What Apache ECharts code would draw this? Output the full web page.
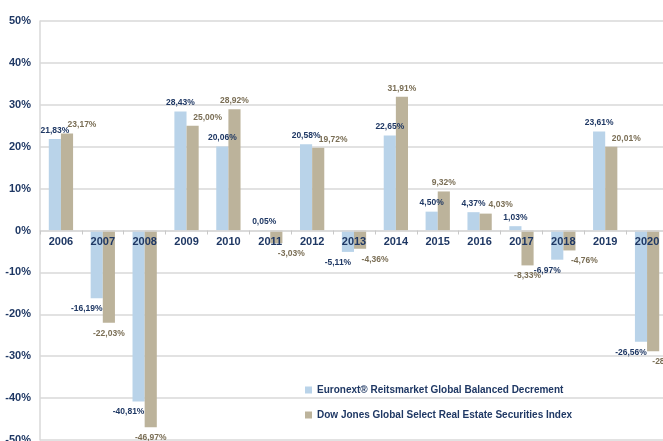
<!DOCTYPE html>
<html>
<head>
<meta charset="utf-8">
<script src="https://cdn.jsdelivr.net/npm/echarts@6/dist/echarts.min.js"></script>
<style>
html,body{margin:0;padding:0;background:#fff;}
#c{width:663px;height:441px;}
</style>
</head>
<body>
<div id="c"></div>
<script>
const categories = ['2006','2007','2008','2009','2010','2011','2012','2013','2014','2015','2016','2017','2018','2019','2020'];
const euronext = [21.83,-16.19,-40.81,28.43,20.06,0.05,20.58,-5.11,22.65,4.50,4.37,1.03,-6.97,23.61,-26.56];
const dowjones = [23.17,-22.03,-46.97,25.00,28.92,-3.03,19.72,-4.36,31.91,9.32,4.03,-8.33,-4.76,20.01,-28.80];
const seriesNames = ['Euronext® Reitsmarket Global Balanced Decrement','Dow Jones Global Select Real Estate Securities Index'];

const navy = '#1F3864';
const tanText = '#7A6E55';
const blue = '#B9D3E9';
const tan = '#BCB39B';
const FONT = 'Liberation Sans, Arial, sans-serif';

function fmt(v){ return v.toFixed(2).replace('.', ',') + '%'; }

// label placement rule: keep the two labels of a year from colliding
function buildData(vals, other, isTan){
  return vals.map((v,i)=>{
    const o = other[i];
    const close = Math.abs(v - o) < 4.5;
    let dx = 0;
    if (isTan) {
      dx = close ? 15 : 0;
    } else if (v < 0 && o < 0) {
      dx = -10;
    }
    return {
      value: v,
      label: { position: v < 0 ? 'bottom' : 'top', distance: v < 0 ? 6 : 4, offset: [dx, 0] }
    };
  });
}

const W = 663, H = 441;
const gridTop = 21, gridBottom = 1;
const yMin = -50, yMax = 50;
const plotH = H - gridTop - gridBottom;
// shift the category axis up from the bottom edge to the zero line
const zeroOffset = -plotH * (0 - yMin) / (yMax - yMin);

const chart = echarts.init(document.getElementById('c'));
const labelBase = (color)=>({
  show: true, fontSize: 8.5, fontWeight: 'bold',
  fontFamily: FONT, color: color,
  formatter: p => fmt(p.value)
});
chart.setOption({
  animation: false,
  grid: { left: 40, right: -5, top: gridTop, bottom: gridBottom, containLabel: false, outerBoundsMode: 'none' },
  legend: {
    orient: 'vertical', left: 300, top: 379, itemWidth: 7, itemHeight: 7, itemGap: 13,
    icon: 'rect',
    textStyle: { fontSize: 10, fontWeight: 'bold', color: navy, fontFamily: FONT, lineHeight: 12 },
    data: seriesNames
  },
  xAxis: {
    type: 'category', data: categories, z: 10, position: 'bottom', offset: zeroOffset,
    axisLine: { onZero: false, lineStyle: { color: '#D9D9D9', width: 1.5 } },
    axisTick: { show: true, length: 4, lineStyle: { color: '#C8C8C8' } },
    axisLabel: { margin: 6, fontSize: 11, fontWeight: 'bold', color: navy, fontFamily: FONT },
    splitLine: { show: false }
  },
  yAxis: {
    type: 'value', min: yMin, max: yMax, interval: 10,
    axisLine: { show: true, onZero: false, lineStyle: { color: '#D9D9D9', width: 1.5 } },
    axisTick: { show: false },
    axisLabel: { formatter: '{value}%', margin: 9, fontSize: 11, fontWeight: 'bold', color: navy, fontFamily: FONT },
    splitLine: { lineStyle: { color: '#D9D9D9', width: 1.5 } }
  },
  series: [
    { name: seriesNames[0], type: 'bar', barGap: '0%', barCategoryGap: '42%',
      itemStyle: { color: blue }, label: labelBase(navy),
      data: buildData(euronext, dowjones, false) },
    { name: seriesNames[1], type: 'bar', barGap: '0%', barCategoryGap: '42%',
      itemStyle: { color: tan }, label: labelBase(tanText),
      data: buildData(dowjones, euronext, true) }
  ]
});
</script>
</body>
</html>
